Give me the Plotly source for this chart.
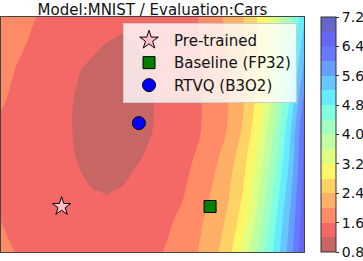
import plotly.graph_objects as go

title_text = "Model:MNIST / Evaluation:Cars"

# grid coordinates of the loss landscape
grid_x = [-0.4, -0.3, -0.2, -0.1, 0.0, 0.1, 0.2, 0.3, 0.4, 0.5, 0.6,
          0.7, 0.8, 0.9, 1.0, 1.1, 1.2, 1.3, 1.4, 1.5, 1.6]
grid_y = [-0.3, -0.1, 0.1, 0.3, 0.5, 0.7, 0.9, 1.1, 1.3]

# estimated loss values, one list per grid row (bottom to top)
loss_y_m03 = [1.68, 1.59, 1.54, 1.48, 1.43, 1.37, 1.31, 1.31, 1.39, 1.46, 1.54, 1.63, 1.82, 2.00, 2.25, 2.65, 3.31, 4.08, 4.84, 5.73, 6.75]
loss_y_m01 = [1.60, 1.55, 1.50, 1.45, 1.40, 1.35, 1.30, 1.28, 1.37, 1.43, 1.50, 1.56, 1.67, 1.91, 2.17, 2.48, 3.02, 3.81, 4.67, 5.59, 6.65]
loss_y_01 = [1.54, 1.49, 1.44, 1.39, 1.34, 1.28, 1.21, 1.19, 1.22, 1.35, 1.42, 1.50, 1.57, 1.77, 2.04, 2.35, 2.82, 3.58, 4.44, 5.39, 6.55]
loss_y_03 = [1.51, 1.45, 1.38, 1.32, 1.26, 1.20, 1.11, 1.02, 1.10, 1.18, 1.29, 1.40, 1.51, 1.65, 1.90, 2.22, 2.67, 3.35, 4.21, 5.19, 6.48]
loss_y_05 = [1.54, 1.47, 1.39, 1.32, 1.25, 1.18, 1.10, 1.03, 1.05, 1.12, 1.20, 1.32, 1.44, 1.56, 1.77, 2.03, 2.46, 3.13, 3.98, 5.03, 6.40]
loss_y_07 = [1.63, 1.54, 1.45, 1.36, 1.27, 1.18, 1.11, 1.04, 1.04, 1.11, 1.19, 1.31, 1.43, 1.55, 1.74, 1.99, 2.36, 2.93, 3.75, 4.73, 6.10]
loss_y_09 = [1.70, 1.59, 1.50, 1.41, 1.31, 1.22, 1.15, 1.09, 1.06, 1.14, 1.20, 1.32, 1.43, 1.55, 1.73, 1.99, 2.34, 2.83, 3.54, 4.46, 5.70]
loss_y_11 = [1.76, 1.67, 1.58, 1.51, 1.44, 1.37, 1.27, 1.21, 1.18, 1.22, 1.35, 1.43, 1.50, 1.58, 1.79, 2.05, 2.37, 2.82, 3.45, 4.26, 5.35]
loss_y_13 = [1.82, 1.73, 1.64, 1.57, 1.51, 1.44, 1.38, 1.32, 1.29, 1.36, 1.42, 1.48, 1.54, 1.60, 1.85, 2.12, 2.41, 2.86, 3.43, 4.11, 5.05]

level_start = 0.8
level_end = 7.2
level_step = 0.4
colorbar_ticks = [0.8, 1.6, 2.4, 3.2, 4.0, 4.8, 5.6, 6.4, 7.2]

# points
point_names = ["Pre-trained", "Baseline (FP32)", "RTVQ (B3O2)"]
point_x = [0.0, 0.98, 0.51]
point_y = [0.0, 0.0, 0.55]

# style
band_colors = ["#c86666", "#f46866", "#ff8c66", "#ffaf66", "#ffd266", "#fdf666",
               "#deff82", "#c0ffa1", "#a1ffc0", "#82ffde", "#66ecff", "#66c6ff",
               "#669fff", "#6679ff", "#6666f4", "#6666c8"]
point_symbols = ["star", "square", "circle"]
point_colors = ["pink", "green", "blue"]
point_sizes = [14, 12, 13]

z = [loss_y_m03, loss_y_m01, loss_y_01, loss_y_03, loss_y_05,
     loss_y_07, loss_y_09, loss_y_11, loss_y_13]

nb = len(band_colors)

# colorscale used by contour fills (plotly maps band above level L to L + step/2)
slots = nb + 1
contour_scale = []
for k, c in enumerate(band_colors):
    lo = 0.0 if k == 0 else (k + 0.5) / slots
    hi = 1.0 if k == nb - 1 else (k + 1.5) / slots
    contour_scale.append([lo, c])
    contour_scale.append([hi, c])

# stepped colorscale for the colorbar (cmin=start, cmax=end)
bar_scale = []
for k, c in enumerate(band_colors):
    bar_scale.append([k / nb, c])
    bar_scale.append([(k + 1) / nb, c])

FONT = "DejaVu Sans"
fig = go.Figure()
fig.add_trace(go.Contour(
    x=grid_x, y=grid_y, z=z,
    autocontour=False,
    contours=dict(start=level_start, end=level_end, size=level_step,
                  coloring="fill", showlines=False),
    line=dict(width=0, smoothing=1.0),
    colorscale=contour_scale,
    showscale=False,
    showlegend=False,
    hoverinfo="skip",
))

# invisible carrier for the discrete colorbar
fig.add_trace(go.Scatter(
    x=[100.0], y=[100.0], mode="markers", showlegend=False, hoverinfo="skip",
    marker=dict(color=[level_start], colorscale=bar_scale,
                cmin=level_start, cmax=level_end, showscale=True,
                colorbar=dict(
                    thickness=15, thicknessmode="pixels",
                    len=1.0, lenmode="fraction",
                    x=1.056, xanchor="left", xpad=0,
                    y=0.5, yanchor="middle", ypad=0,
                    outlinewidth=1, outlinecolor="#333",
                    tickmode="array", tickvals=colorbar_ticks,
                    ticktext=[f"{v:.1f}" for v in colorbar_ticks],
                    ticks="outside", ticklen=3, tickwidth=1, tickcolor="#333",
                    tickfont=dict(family=FONT, size=14, color="#111"),
                )),
))

for name, px_, py_, sym, col, sz in zip(point_names, point_x, point_y,
                                        point_symbols, point_colors, point_sizes):
    fig.add_trace(go.Scatter(
        x=[px_], y=[py_], mode="markers", name=name,
        marker=dict(symbol=sym, size=sz, color=col,
                    line=dict(color="black", width=1)),
    ))

fig.update_layout(
    width=363, height=261,
    margin=dict(l=1, r=59, t=17, b=9, autoexpand=False),
    paper_bgcolor="white", plot_bgcolor="white",
    font=dict(family=FONT, size=15, color="#111"),
    title=dict(text=title_text, x=0.5, xref="paper", xanchor="center",
               y=1 - 10 / 261, yanchor="middle", yref="container",
               font=dict(family=FONT, size=15, color="#111")),
    legend=dict(x=0.977, y=0.975, xanchor="right", yanchor="top",
                itemwidth=40,
                bgcolor="rgba(255,255,255,0.8)", bordercolor="#cccccc",
                borderwidth=1, font=dict(family=FONT, size=15, color="#111")),
)
fig.update_xaxes(range=[-0.4, 1.6], showticklabels=False, showgrid=False,
                 zeroline=False, showline=True, mirror=True,
                 linecolor="#444", linewidth=1, ticks="")
fig.update_yaxes(range=[-0.3, 1.25], showticklabels=False, showgrid=False,
                 zeroline=False, showline=True, mirror=True,
                 linecolor="#444", linewidth=1, ticks="")

fig.write_html("out.html", config={"displayModeBar": False},
               post_script="document.body.style.margin='0px';")
